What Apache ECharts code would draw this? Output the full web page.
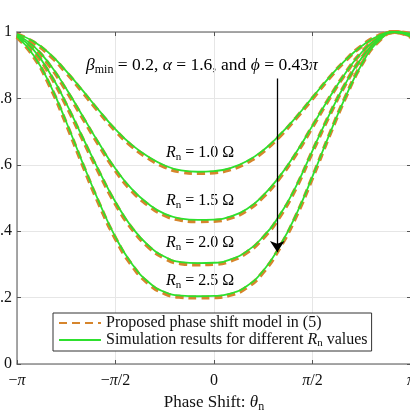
<!DOCTYPE html>
<html>
<head>
<meta charset="utf-8">
<script src="https://cdn.jsdelivr.net/npm/echarts@6/dist/echarts.min.js"></script>
<style>html,body{margin:0;padding:0;background:#fff}#c{width:410px;height:410px}</style>
</head>
<body>
<div id="c"></div>
<script>
// theta in units of pi
const thetaPi = [-1, -0.917, -0.833, -0.75, -0.667, -0.583, -0.5, -0.417, -0.333, -0.25, -0.167, -0.083, 0, 0.083, 0.167, 0.25, 0.333, 0.417, 0.5, 0.583, 0.667, 0.75, 0.833, 0.917, 1];
// proposed model (dashed)
const modelR10 = [0.993,0.969,0.930,0.878,0.820,0.759,0.703,0.656,0.620,0.594,0.579,0.575,0.577,0.586,0.607,0.640,0.686,0.741,0.800,0.860,0.914,0.958,0.988,1.000,0.993];
const modelR15 = [0.990,0.955,0.898,0.824,0.742,0.659,0.583,0.522,0.478,0.448,0.434,0.430,0.431,0.440,0.463,0.504,0.561,0.633,0.715,0.798,0.875,0.939,0.982,1.000,0.990];
const modelR20 = [0.988,0.944,0.872,0.780,0.678,0.576,0.483,0.408,0.353,0.319,0.303,0.300,0.301,0.311,0.336,0.380,0.444,0.532,0.640,0.746,0.843,0.922,0.977,1.000,0.988];
const modelR25 = [0.985,0.928,0.838,0.724,0.601,0.482,0.378,0.298,0.243,0.213,0.202,0.200,0.201,0.208,0.231,0.277,0.350,0.446,0.562,0.685,0.803,0.903,0.971,1.000,0.985];
// simulation results (green)
const simR10 = [0.994,0.972,0.934,0.882,0.824,0.763,0.707,0.660,0.624,0.598,0.583,0.579,0.581,0.590,0.611,0.644,0.690,0.744,0.803,0.862,0.915,0.958,0.988,1.000,0.994];
const simR15 = [0.991,0.958,0.902,0.829,0.747,0.664,0.588,0.527,0.482,0.452,0.438,0.434,0.435,0.444,0.467,0.508,0.565,0.637,0.718,0.800,0.876,0.939,0.982,1.000,0.991];
const simR20 = [0.989,0.947,0.876,0.785,0.683,0.581,0.488,0.412,0.357,0.323,0.307,0.304,0.305,0.315,0.340,0.384,0.448,0.536,0.643,0.748,0.844,0.922,0.977,1.000,0.989];
const simR25 = [0.986,0.931,0.842,0.729,0.606,0.487,0.382,0.302,0.247,0.217,0.206,0.204,0.205,0.212,0.235,0.281,0.354,0.450,0.565,0.687,0.804,0.903,0.971,1.000,0.986];
const curveLabels = ['1.0', '1.5', '2.0', '2.5'];
const xTickLabels = ['\u2212{i|\u03c0}', '\u2212{i|\u03c0}/2', '0', '{i|\u03c0}/2', '{i|\u03c0}'];
const yTickLabels = ['0', '.2', '.4', '.6', '.8', '1'];
const modelName = 'Proposed phase shift model in (5)';
const simName = 'Simulation results for different Rn values';

const FONT = 'Liberation Serif';
const ORANGE = '#D6852C';
const GREEN = '#2EE02E';
function mkRich(fs, sub, lh) {
  return {
    i: {fontStyle: 'italic', fontFamily: FONT, fontSize: fs, color: '#111', lineHeight: lh, verticalAlign: 'middle'},
    t: {fontFamily: FONT, fontSize: fs, color: '#111', lineHeight: lh, verticalAlign: 'middle'},
    s: {fontFamily: FONT, fontSize: sub, color: '#111', lineHeight: lh, verticalAlign: 'bottom'}
  };
}
const rich16 = mkRich(16, 11, 20);
const rich17 = mkRich(17, 12, 21);

const toData = arr => thetaPi.map((x, i) => [x, arr[i]]);
const modelSets = [modelR10, modelR15, modelR20, modelR25];
const simSets = [simR10, simR15, simR20, simR25];

const series = [];
modelSets.forEach(a => series.push({
  name: modelName, type: 'line', data: toData(a), smooth: true, symbol: 'none',
  lineStyle: {color: ORANGE, width: 4, type: [8, 5]}, itemStyle: {color: ORANGE}, z: 2
}));
simSets.forEach((a, k) => series.push({
  name: simName, type: 'line', data: toData(a), smooth: true, symbol: 'none',
  lineStyle: {color: GREEN, width: 1.8}, itemStyle: {color: GREEN}, z: 3,
  markLine: k === 3 ? {
    silent: true, symbol: ['none', 'arrow'], symbolSize: 11,
    lineStyle: {color: '#000', width: 1.3, type: 'solid'},
    itemStyle: {color: '#000'},
    label: {show: false},
    data: [[{coord: [0.321, 0.86]}, {coord: [0.321, 0.337]}]]
  } : undefined
}));

const labelY = [155, 203, 245, 283];
const graphic = curveLabels.map((r, k) => ({
  type: 'text', left: 166, top: labelY[k] - 10,
  style: {text: '{i|R}{s|n}{t| = ' + r + ' \u03a9}', rich: rich16, font: '16px ' + FONT}
}));
graphic.push({
  type: 'text', left: 86, top: 56,
  style: {text: '{i|\u03b2}{s|min}{t| = 0.2, }{i|\u03b1}{t| = 1.6, and }{i|\u03d5}{t| = 0.43}{i|\u03c0}', rich: mkRich(17.5, 12, 21), font: '17.5px ' + FONT}
});

const axisLine = {onZero: false, lineStyle: {color: '#8a8a8a', width: 1.5}};
const axisTick = {inside: true, length: 4, lineStyle: {color: '#555'}};
const option = {
  animation: false,
  backgroundColor: '#fff',
  textStyle: {fontFamily: FONT},
  grid: {left: 17, top: 32, width: 394, bottom: 46, containLabel: false, outerBoundsMode: 'none'},
  legend: {
    data: [modelName, simName], orient: 'vertical', left: 53, top: 313,
    itemWidth: 42, itemHeight: 14, itemGap: 1, padding: [2, 4, 2, 5],
    borderColor: '#333', borderWidth: 1, backgroundColor: '#fff',
    itemStyle: {opacity: 0},
    textStyle: {fontFamily: FONT, fontSize: 16, color: '#111', rich: mkRich(16, 11, 18)},
    formatter: n => n === simName ? '{t|Simulation results for different }{i|R}{s|n}{t| values}' : '{t|' + n + '}'
  },
  xAxis: [{
    type: 'value', min: -1, max: 1, interval: 0.5,
    axisLine: axisLine, axisTick: axisTick,
    axisLabel: {color: '#111', fontSize: 16, margin: 7, rich: rich16,
      formatter: v => '{t|' + xTickLabels[Math.round((v + 1) / 0.5)].replace(/\{i\|\u03c0\}/g, '}{i|\u03c0}{t|') + '}'},
    splitLine: {show: true, lineStyle: {color: '#e6e6e6', width: 1}},
    name: '{t|Phase Shift: }{i|\u03b8}{s|n}', nameLocation: 'middle', nameGap: 24,
    nameTextStyle: {rich: rich17, fontFamily: FONT, fontSize: 17}
  }, {
    type: 'value', position: 'top', min: -1, max: 1, interval: 0.5,
    axisLine: axisLine, axisTick: axisTick, axisLabel: {show: false}, splitLine: {show: false}
  }],
  yAxis: [{
    type: 'value', min: 0, max: 1, interval: 0.2,
    axisLine: axisLine, axisTick: axisTick,
    axisLabel: {color: '#111', fontSize: 16, fontFamily: FONT, margin: 5,
      formatter: v => yTickLabels[Math.round(v / 0.2)]},
    splitLine: {show: true, lineStyle: {color: '#e6e6e6', width: 1}}
  }, {
    type: 'value', position: 'right', min: 0, max: 1, interval: 0.2,
    axisLine: axisLine, axisTick: axisTick, axisLabel: {show: false}, splitLine: {show: false}
  }],
  graphic: graphic,
  series: series
};
const chart = echarts.init(document.getElementById('c'), null, {renderer: 'canvas'});
chart.setOption(option);
</script>
</body>
</html>
